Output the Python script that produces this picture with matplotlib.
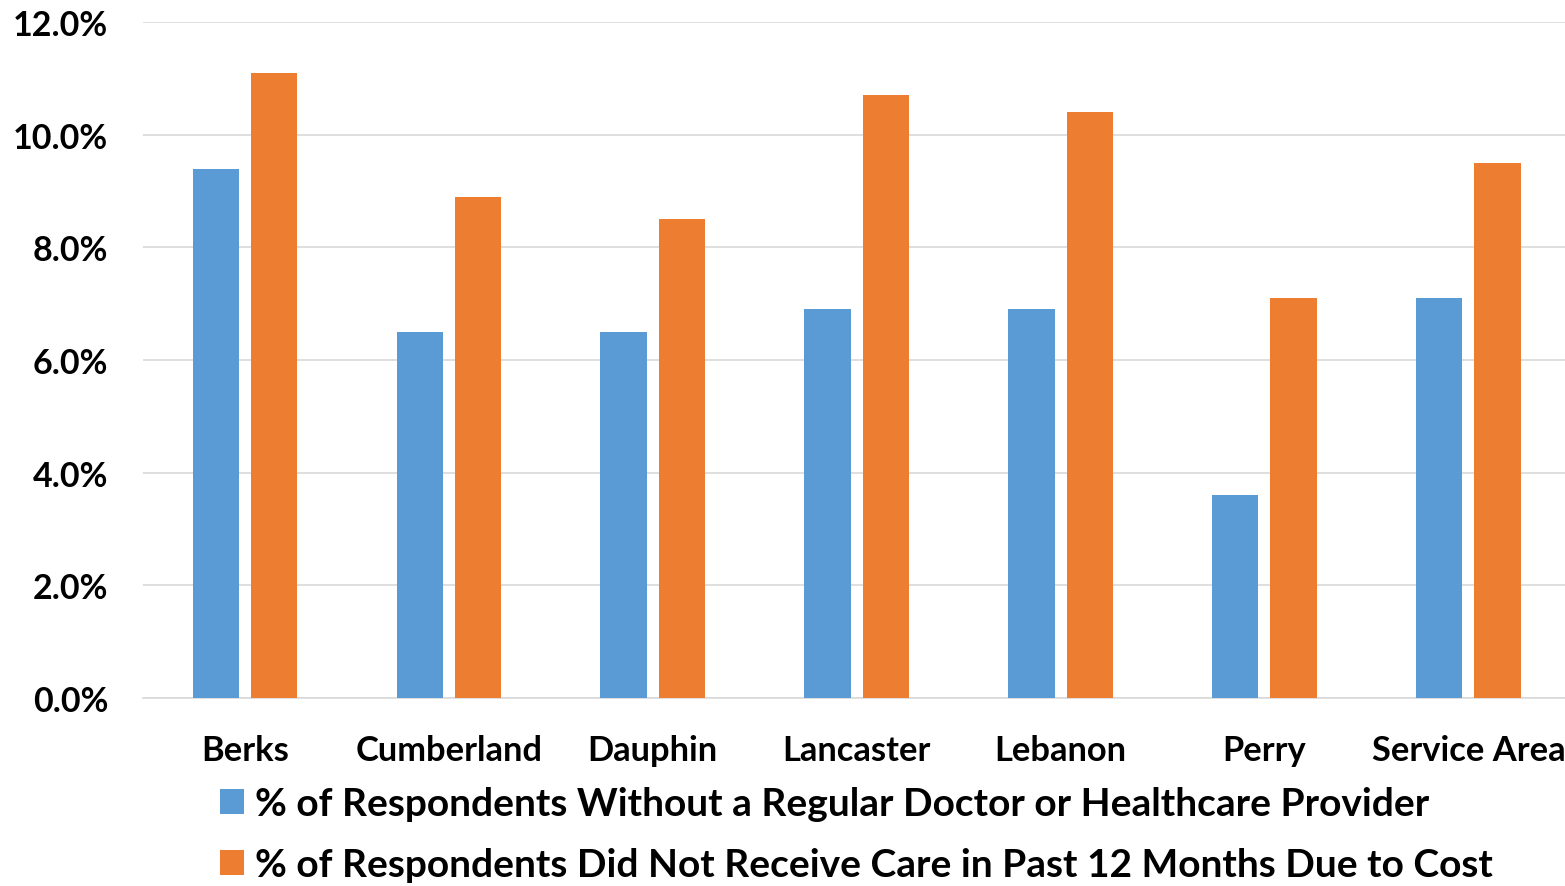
import matplotlib.pyplot as plt
import numpy as np
from matplotlib.ticker import PercentFormatter

categories = ['Berks', 'Cumberland', 'Dauphin', 'Lancaster', 'Lebanon', 'Perry', 'Service Area']
no_doctor = [9.4, 6.5, 6.5, 6.9, 6.9, 3.6, 7.1]
no_care_cost = [11.1, 8.9, 8.5, 10.7, 10.4, 7.1, 9.5]
series_names = ['% of Respondents Without a Regular Doctor or Healthcare Provider',
                '% of Respondents Did Not Receive Care in Past 12 Months Due to Cost']

plt.rcParams['font.family'] = ['Lato', 'DejaVu Sans']
plt.rcParams['font.weight'] = 'bold'

fig = plt.figure(figsize=(15.65, 8.87), dpi=100)
ax = fig.add_axes([0.0914, 0.212, 0.912, 0.762])

x = np.arange(len(categories))
w = 0.227
ax.bar(x - 0.143, no_doctor, w, color='#5B9BD5', label=series_names[0], zorder=3)
ax.bar(x + 0.143, no_care_cost, w, color='#ED7D31', label=series_names[1], zorder=3)

ax.set_xlim(-0.5, len(categories) - 0.5)
ax.set_ylim(0, 12)
ax.set_yticks(np.arange(0, 12.1, 2))
ax.yaxis.set_major_formatter(PercentFormatter(decimals=1))
ax.grid(axis='y', color='#D9D9D9', linewidth=1.2, zorder=0)
for s in ['top', 'right', 'left']:
    ax.spines[s].set_visible(False)
ax.spines['bottom'].set_color('#D9D9D9')
ax.spines['bottom'].set_linewidth(1.2)
ax.tick_params(axis='y', length=0, labelsize=24.5, pad=25)
ax.tick_params(axis='x', length=0, labelsize=24.8, pad=26)
ax.set_xticks(x)
ax.set_xticklabels(categories)

fig.legend(loc='upper left', bbox_to_anchor=(0.1284, 0.1347), frameon=False,
           fontsize=28, handlelength=0.6, handleheight=0.6, handletextpad=0.3,
           labelspacing=0.67, borderpad=0)

fig.savefig('out.png', dpi=100)
